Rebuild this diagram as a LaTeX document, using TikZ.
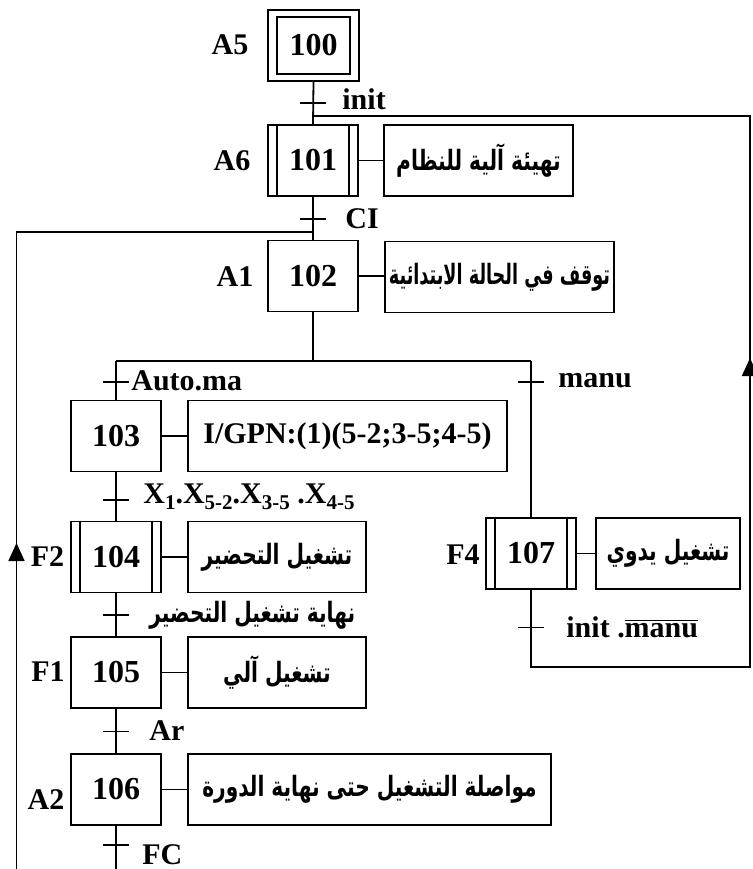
\documentclass[tikz,border=0pt]{standalone}
\usepackage{graphicx}
\usepackage{fontspec}
\setmainfont{Liberation Serif}
\newfontfamily\arabicfont[Script=Arabic]{DejaVu Sans}
\TeXXeTstate=1
\usetikzlibrary{arrows.meta}
\newcommand{\sbs}[1]{\raisebox{-0.45ex}{\fontsize{10.5}{12}\selectfont #1}}
\newcommand{\artxt}[2][0.72]{\scalebox{#1}[1]{\beginR #2\endR}}
\tikzset{
 ln/.style={line width=0.9pt},
 stepbox/.style={draw, line width=0.9pt, minimum width=45pt, minimum height=35.5pt, inner sep=0pt, font=\fontsize{16}{18}\selectfont\bfseries},
 actbox/.style={draw, line width=0.9pt, minimum height=35.5pt, inner sep=0pt, font=\arabicfont\bfseries\fontsize{14}{16}\selectfont},
 lbl/.style={inner sep=0pt, font=\fontsize{15}{18}\selectfont\bfseries},
 arlbl/.style={inner sep=0pt, font=\arabicfont\bfseries\fontsize{14}{16}\selectfont},
 upar/.style={line width=0.9pt, -{Triangle[width=8pt,length=9pt]}},
}
\begin{document}
\begin{tikzpicture}[x=0.5pt,y=-0.5pt]
\useasboundingbox (0,0) rectangle (753,869);
% steps
\node[stepbox, minimum width=45.5pt] (s100) at (313.5,45.5) {100};
\draw[ln] ([shift={(5pt,-4pt)}]s100.north west) rectangle ([shift={(-5pt,4pt)}]s100.south east);
\node[stepbox] (s101) at (313,160.5) {101};
\node[stepbox] (s102) at (313,276) {102};
\node[stepbox] (s103) at (116,436) {103};
\node[stepbox] (s104) at (116,557) {104};
\node[stepbox] (s105) at (116,672.5) {105};
\node[stepbox] (s106) at (116,789.5) {106};
\node[stepbox] (s107) at (531,553.5) {107};
\foreach \s in {s101,s104,s107} {
  \draw[ln] ([xshift=5pt]\s.north west) -- ([xshift=5pt]\s.south west);
  \draw[ln] ([xshift=-5pt]\s.north east) -- ([xshift=-5pt]\s.south east);
}
% step labels
\node[lbl] (lA5) at (230,45) {A5};
\node[lbl] (lA6) at (232,161) {A6};
\node[lbl] (lA1) at (235,277) {A1};
\node[lbl] (lF2) at (47.5,557) {F2};
\node[lbl] (lF1) at (48,672) {F1};
\node[lbl] (lA2) at (46,800) {A2};
\node[lbl] (lF4) at (463,555) {F4};
% actions
\node[actbox, minimum width=94.5pt] (a101) at (478.5,160.5) {\artxt{تهيئة آلية للنظام}};
\node[actbox, minimum width=114.5pt] (a102) at (499.5,277) {\artxt[0.63]{توقف في الحالة الابتدائية}};
\node[actbox, minimum width=159.5pt, font=\fontsize{15}{18}\selectfont\bfseries] (a103) at (347.5,436) {I/GPN:(1)(5-2;3-5;4-5)};
\node[actbox, minimum width=89pt] (a104) at (277,557) {\artxt{تشغيل التحضير}};
\node[actbox, minimum width=89pt] (a105) at (277,672.5) {\artxt{تشغيل آلي}};
\node[actbox, minimum width=181.5pt] (a106) at (369.5,789.5) {\artxt{مواصلة التشغيل حتى نهاية الدورة}};
\node[actbox, minimum width=72pt] (a107) at (668,553.5) {\artxt{تشغيل يدوي}};
\foreach \n in {101,102,103,104,105,106,107} \draw[ln] (s\n.east) -- (s\n.east -| a\n.west);
% coordinates
\coordinate (t1) at (313,103);
\coordinate (j1) at (313,116);
\coordinate (t2) at (313,219);
\coordinate (j2) at (313,232);
\coordinate (b0) at (313,361);
\coordinate (bl) at (116,361);
\coordinate (br) at (531,361);
\coordinate (t3) at (116,382);
\coordinate (t4) at (531,382);
\coordinate (t5) at (116,500);
\coordinate (t6) at (116,615);
\coordinate (t7) at (116,731.5);
\coordinate (t8) at (116,845);
\coordinate (e1) at (116,869);
\coordinate (t9) at (531,627.5);
\coordinate (r1) at (531,667);
\coordinate (r2) at (750,667);
\coordinate (r3) at (750,116);
\coordinate (ra1) at (750,380);
\coordinate (ra2) at (750,358);
\coordinate (l1) at (16.5,869);
\coordinate (l2) at (16.5,232);
\coordinate (la1) at (16.5,565);
\coordinate (la2) at (16.5,543);
% links
\draw[ln] (s100.south) -- (s101.north);
\draw[ln] (s101.south) -- (s102.north);
\draw[ln] (s102.south) -- (b0);
\draw[ln] (bl) -- (br);
\draw[ln] (bl) -- (s103.north);
\draw[ln] (s103.south) -- (s104.north);
\draw[ln] (s104.south) -- (s105.north);
\draw[ln] (s105.south) -- (s106.north);
\draw[ln] (s106.south) -- (e1);
\draw[ln] (br) -- (s107.north);
\draw[ln] (s107.south) -- (r1) -- (r2) -- (r3) -- (j1);
\draw[ln] (l1) -- (l2) -- (j2);
\draw[upar] (ra1) -- (ra2);
\draw[upar] (la1) -- (la2);
% transitions
\foreach \t in {t1,t2,t3,t4,t5,t6,t7,t8,t9}
  \draw[ln] ([xshift=-6.5pt]\t) -- ([xshift=6.5pt]\t);
\node[lbl, anchor=west] (c1) at (342,99) {init};
\node[lbl, anchor=west] (c2) at (345,219) {CI};
\node[lbl, anchor=west] (c3) at (131,381) {Auto.ma};
\node[lbl, anchor=west] (c4) at (558,381) {manu};
\node[lbl, anchor=west] (c5) at (143,497) {X\sbs{1}.X\sbs{5-2}.X\sbs{3-5} .X\sbs{4-5}};
\node[arlbl, anchor=west] (c6) at (149,615) {\artxt{نهاية تشغيل التحضير}};
\node[lbl, anchor=west] (c7) at (149,731) {Ar};
\node[lbl, anchor=west] (c8) at (142,855) {FC};
\node[lbl, anchor=west] (c9) at (566,627) {init .$\overline{\hbox{manu}}$};
\end{tikzpicture}
\end{document}
